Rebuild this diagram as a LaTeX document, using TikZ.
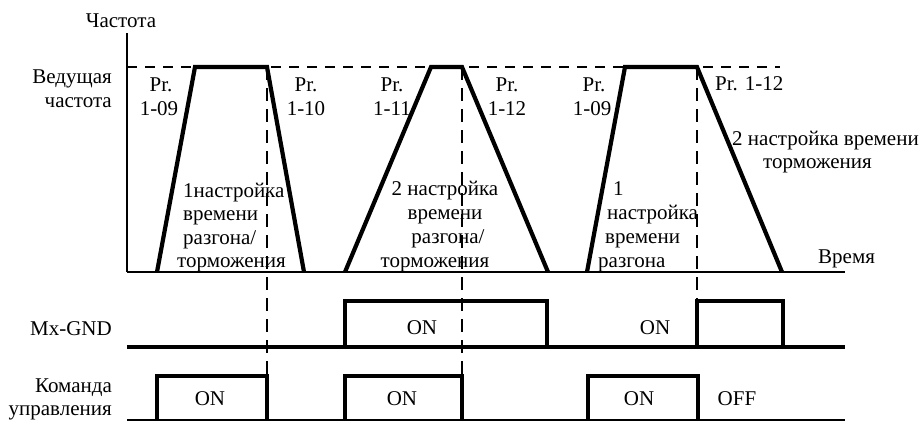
\documentclass[tikz,border=0pt]{standalone}
\usepackage{fontspec}
\setmainfont{Liberation Serif}
\begin{document}
\begin{tikzpicture}[x=1pt,y=-1pt,
  txt/.style={inner sep=0pt, font=\fontsize{21}{23.5}\selectfont},
  trapline/.style={line width=4.2pt, line join=miter},
  pulseline/.style={line width=3.6pt, line join=miter},
  axisline/.style={line width=1.6pt},
  freqbase/.style={line width=2.6pt},
  mxbase/.style={line width=3.4pt},
  cmdbase/.style={line width=1.6pt},
  topdash/.style={line width=2pt, dash pattern=on 10pt off 8pt},
  vdash/.style={line width=2.8pt, dash pattern=on 13pt off 8pt}]
\useasboundingbox (0,0) rectangle (922,421);

% axes
\coordinate (ytop) at (127,33);
\coordinate (orig) at (127,272);
\coordinate (xend) at (845,272);
\draw[axisline] (ytop) -- (orig);
\draw[freqbase] (orig) -- (xend);
\draw[topdash] (127,67) -- (780,67);

% trapezoids
\draw[trapline] (157,272) -- (195,67) -- (267,67) -- (304,272);
\draw[trapline] (345,272) -- (431,67) -- (462,67) -- (548,272);
\draw[trapline] (587,272) -- (625,67) -- (697,67) -- (782,272);

% vertical dashed markers
\draw[vdash] (267,67) -- (267,376);
\draw[vdash] (462,67) -- (462,376);
\draw[vdash] (697,67) -- (697,301);

% Mx-GND row
\draw[mxbase] (127,347) -- (845,347);
\draw[pulseline] (345,347) -- (345,301) -- (547,301) -- (547,347);
\draw[pulseline] (697,347) -- (697,301) -- (783,301) -- (783,347);

% command row
\draw[cmdbase] (127,420) -- (845,420);
\draw[pulseline] (157,420) -- (157,376) -- (267,376) -- (267,420);
\draw[pulseline] (345,420) -- (345,376) -- (462,376) -- (462,420);
\draw[pulseline] (588,420) -- (588,376) -- (698,376) -- (698,420);

% labels left
\node[txt, anchor=base] (freq) at (121,27) {Частота};
\node[txt, anchor=base east] (lead1) at (112,83) {Ведущая};
\node[txt, anchor=base east] (lead2) at (112,107) {частота};
\node[txt, anchor=base east] (mx) at (112,335) {Mx-GND};
\node[txt, anchor=base east] (cmd1) at (112,392) {Команда};
\node[txt, anchor=base east] (cmd2) at (112,415) {управления};
\node[txt, anchor=base west] (time) at (818,263) {Время};

% Pr labels
\node[txt, anchor=base] (pa1) at (161,91) {Pr.};
\node[txt, anchor=base] (pa2) at (159,115) {1-09};
\node[txt, anchor=base] (pb1) at (306,91) {Pr.};
\node[txt, anchor=base] (pb2) at (306,115) {1-10};
\node[txt, anchor=base] (pc1) at (392,91) {Pr.};
\node[txt, anchor=base] (pc2) at (392,115) {1-11};
\node[txt, anchor=base] (pd1) at (507,91) {Pr.};
\node[txt, anchor=base] (pd2) at (507,115) {1-12};
\node[txt, anchor=base] (pe1) at (594,91) {Pr.};
\node[txt, anchor=base] (pe2) at (592,115) {1-09};
\node[txt, anchor=base west] (pf) at (715,90) {Pr. 1-12};

% block 1
\node[txt, anchor=base west] (a1) at (183,197) {1настройка};
\node[txt, anchor=base west] (a2) at (183,220) {времени};
\node[txt, anchor=base west] (a3) at (183,244) {разгона/};
\node[txt, anchor=base west] (a4) at (177,267) {торможения};

% block 2
\node[txt, anchor=base] (b1) at (445,195) {2 настройка};
\node[txt, anchor=base] (b2) at (445,219) {времени};
\node[txt, anchor=base] (b3) at (448,243) {разгона/};
\node[txt, anchor=base] (b4) at (435,267) {торможения};

% block 3
\node[txt, anchor=base west] (c1) at (613,195) {1};
\node[txt, anchor=base west] (c2) at (607,219) {настройка};
\node[txt, anchor=base west] (c3) at (605,243) {времени};
\node[txt, anchor=base west] (c4) at (598,267) {разгона};

% block 4
\node[txt, anchor=base west] (d1) at (732,145) {2 настройка времени};
\node[txt, anchor=base west] (d2) at (763,168) {торможения};

% ON / OFF
\node[txt, anchor=base] (on1) at (422,334) {ON};
\node[txt, anchor=base] (on2) at (655,334) {ON};
\node[txt, anchor=base] (on3) at (210,405) {ON};
\node[txt, anchor=base] (on4) at (402,405) {ON};
\node[txt, anchor=base] (on5) at (639,405) {ON};
\node[txt, anchor=base] (off) at (737,405) {OFF};
\end{tikzpicture}
\end{document}
